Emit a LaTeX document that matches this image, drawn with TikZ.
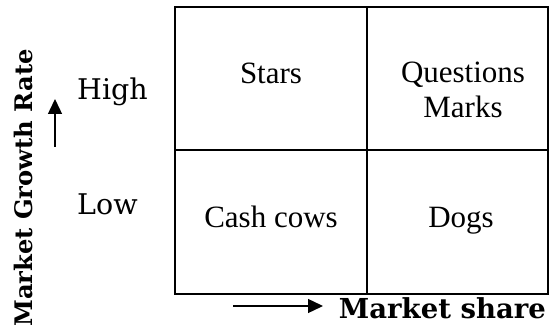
\documentclass[tikz,border=0pt]{standalone}
\usepackage{fontspec}
\setmainfont{Liberation Serif}
\newfontfamily\schfont{DejaVu Serif}
\usetikzlibrary{arrows.meta}

\begin{document}
\begin{tikzpicture}[
  x=1pt, y=-1pt,
  grid/.style={line width=1.6pt, line cap=rect},
  cell/.style={font=\fontsize{31}{35}\selectfont, align=center, inner sep=0pt},
  level/.style={font=\schfont\fontsize{28.5}{34}\selectfont, inner sep=0pt, anchor=base west},
  axis/.style={font=\schfont\bfseries\fontsize{27.5}{32}\selectfont, inner sep=0pt},
  pointer/.style={-{Triangle[length=15pt, width=14pt]}, line width=1.4pt}
]
\useasboundingbox (0,0) rectangle (549,326);
% the four quadrants
\draw[grid] (175,7) rectangle (548,294);
\draw[grid] (367,7) -- (367,294);
\draw[grid] (175,150) -- (548,150);
\node[cell, anchor=base] (stars) at (271,84) {Stars};
\node[cell] (question) at (463,90) {Questions\\Marks};
\node[cell, anchor=base] (cows) at (271,227) {Cash cows};
\node[cell, anchor=base] (dogs) at (461,227) {Dogs};
% growth axis
\node[level] (high) at (77,100) {High};
\node[level] (low) at (77,214) {Low};
\node[axis, rotate=90, anchor=base east, font=\schfont\bfseries\fontsize{24.2}{30}\selectfont] (growth) at (32,49) {Market Growth Rate};
\coordinate (upfrom) at (55,147);
\coordinate (upto) at (55,99);
\draw[pointer] (upfrom) -- (upto);
% share axis
\node[axis, anchor=base east] (share) at (546,318) {Market share};
\coordinate (rightfrom) at (233,306);
\coordinate (rightto) at (323,306);
\draw[pointer] (rightfrom) -- (rightto);
\end{tikzpicture}
\end{document}
